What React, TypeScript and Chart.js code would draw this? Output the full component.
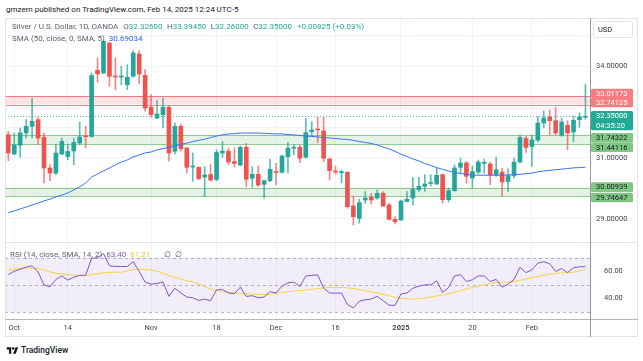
import React, { useEffect, useRef } from 'react';
import { Chart, registerables } from 'chart.js';

Chart.register(...registerables);

const FONT = 'Roboto, "Noto Sans", sans-serif';

// Daily OANDA XAGUSD candles, Sep 30 2024 .. Feb 14 2025 (holidays Dec 25 / Jan 1 absent)
const openP = [
  31.755, 31.124, 31.409, 31.811, 32.030, 32.245, 31.670, 30.667, 30.503, 31.124,
  31.043, 31.222, 31.484, 31.713, 31.696, 33.860, 33.771, 34.752, 33.673, 33.641,
  33.389, 33.664, 34.392, 33.696, 32.651, 32.301, 32.409, 32.651, 31.213, 32.030,
  31.320, 30.700, 30.690, 30.373, 30.454, 30.291, 31.157, 31.222, 30.879, 30.765,
  31.343, 30.330, 30.461, 30.134, 30.252, 30.536, 30.526, 31.036, 31.311, 31.343,
  31.016, 31.853, 31.931, 31.876, 30.961, 30.568, 30.513, 30.526, 29.425, 29.023,
  29.621, 29.709, 29.686, 29.840, 29.458, 28.990, 28.967, 29.572, 29.686, 29.958,
  30.069, 30.160, 30.144, 30.448, 29.631, 29.925, 30.690, 30.830, 30.340, 30.536,
  30.820, 30.798, 30.448, 30.536, 30.226, 30.422, 30.863, 31.631, 31.370, 31.582,
  32.137, 32.334, 32.213, 31.735, 32.062, 31.843, 32.245, 32.326,
];
const highP = [
  31.866, 31.811, 31.974, 32.245, 32.954, 32.324, 31.811, 30.775, 31.451, 31.647,
  31.451, 31.647, 32.170, 32.030, 33.771, 34.262, 34.833, 34.770, 34.262, 33.990,
  34.043, 34.500, 34.500, 33.879, 33.062, 32.866, 32.954, 32.716, 32.137, 32.105,
  31.330, 31.157, 30.700, 30.709, 30.775, 31.265, 31.533, 31.320, 31.320, 31.386,
  31.474, 30.709, 30.732, 30.275, 30.951, 30.820, 31.092, 31.494, 31.418, 31.418,
  32.291, 32.180, 32.324, 32.324, 30.984, 30.732, 30.600, 30.546, 29.752, 29.644,
  29.892, 29.840, 29.948, 29.892, 29.513, 29.075, 29.620, 29.905, 30.356, 30.363,
  30.448, 30.448, 30.667, 30.470, 30.013, 30.775, 30.993, 30.886, 30.732, 30.928,
  30.960, 30.863, 31.026, 30.667, 30.640, 30.993, 31.745, 31.700, 31.745, 32.343,
  32.529, 32.562, 32.651, 32.301, 32.213, 32.356, 32.464, 33.3945,
];
const lowP = [
  30.905, 31.101, 31.016, 31.647, 31.647, 31.428, 30.177, 30.252, 30.448, 31.101,
  30.938, 30.775, 31.428, 31.320, 31.680, 33.467, 33.755, 33.337, 33.226, 33.389,
  33.226, 33.631, 33.412, 32.520, 32.324, 32.278, 31.974, 30.886, 31.124, 31.213,
  30.503, 30.232, 30.275, 29.735, 30.232, 30.252, 31.010, 30.775, 30.700, 30.732,
  30.056, 30.036, 30.056, 29.677, 30.219, 30.111, 30.494, 30.513, 31.092, 30.840,
  30.984, 31.690, 31.500, 30.873, 30.275, 30.471, 30.187, 29.350, 28.804, 28.860,
  29.513, 29.490, 29.644, 29.402, 28.967, 28.837, 28.950, 29.556, 29.458, 29.882,
  29.905, 30.069, 30.120, 29.523, 29.556, 29.905, 30.503, 30.177, 30.013, 30.471,
  30.490, 30.121, 30.389, 29.735, 29.899, 30.340, 30.830, 31.173, 30.716, 31.530,
  31.974, 31.745, 31.745, 31.700, 31.265, 31.516, 31.997, 32.260,
];
const closeP = [
  31.157, 31.428, 31.811, 32.030, 32.193, 31.647, 30.667, 30.503, 31.157, 31.539,
  31.206, 31.500, 31.680, 31.690, 33.690, 33.739, 34.807, 33.664, 33.641, 33.673,
  33.631, 34.425, 33.739, 32.628, 32.409, 32.432, 32.651, 31.157, 32.030, 31.298,
  30.690, 30.732, 30.317, 30.438, 30.275, 31.173, 31.222, 30.863, 30.814, 31.343,
  30.298, 30.461, 30.111, 30.252, 30.624, 30.520, 31.059, 31.311, 31.343, 30.984,
  31.820, 31.909, 31.909, 30.984, 30.579, 30.536, 30.546, 29.402, 29.075, 29.533,
  29.686, 29.621, 29.840, 29.425, 28.990, 28.912, 29.588, 29.644, 29.964, 30.069,
  30.144, 30.177, 30.428, 29.631, 29.925, 30.667, 30.830, 30.396, 30.552, 30.863,
  30.830, 30.448, 30.611, 30.210, 30.422, 30.863, 31.664, 31.337, 31.582, 32.137,
  32.301, 32.213, 31.811, 32.170, 31.811, 32.226, 32.334, 32.350,
];
const sma50 = [
  29.21, 29.26, 29.33, 29.39, 29.46, 29.52, 29.59, 29.65, 29.72, 29.78,
  29.85, 29.95, 30.05, 30.18, 30.37, 30.47, 30.57, 30.67, 30.77, 30.86,
  30.93, 31.03, 31.09, 31.16, 31.19, 31.26, 31.30, 31.35, 31.39, 31.44,
  31.48, 31.53, 31.57, 31.61, 31.66, 31.71, 31.75, 31.78, 31.79, 31.81,
  31.81, 31.81, 31.81, 31.80, 31.79, 31.78, 31.78, 31.76, 31.75, 31.73,
  31.71, 31.70, 31.68, 31.66, 31.65, 31.63, 31.61, 31.60, 31.57, 31.53,
  31.50, 31.47, 31.42, 31.35, 31.29, 31.21, 31.12, 31.04, 30.96, 30.90,
  30.81, 30.75, 30.68, 30.62, 30.57, 30.52, 30.49, 30.46, 30.44, 30.43,
  30.43, 30.43, 30.43, 30.43, 30.44, 30.45, 30.46, 30.48, 30.50, 30.54,
  30.57, 30.59, 30.61, 30.63, 30.65, 30.67, 30.68, 30.69034,
];
const rsi14 = [
  57.5, 60, 61.5, 63, 64, 59.5, 50, 48.5, 54, 56.5,
  53.5, 55.5, 57, 57, 69.5, 70, 73, 64, 63.5, 63.5,
  63.5, 67, 60, 52, 50.5, 51, 52, 41.5, 47.5, 44,
  41, 40.5, 38.5, 39.5, 38.3, 46.3, 46.5, 44, 43.5, 48.3,
  41.5, 42, 40.5, 41, 45, 44, 49, 51.5, 52, 48.8,
  56.5, 57, 57.3, 47.6, 44, 43.9, 44, 35.5, 33, 38,
  39, 39.5, 41.5, 38.3, 35, 34.9, 43.2, 44, 47.5, 49,
  50, 50, 53, 44.4, 48, 56.5, 57.5, 52.4, 53.7, 56.6,
  56.5, 52.5, 54, 48.3, 50.5, 54, 62.9, 59, 61, 66,
  67, 65.5, 59.8, 62, 59, 62.5, 63.3, 63.4,
];
const rsiMa = [
  61, 61.5, 62, 62.2, 62.3, 62, 61, 59.5, 58.5, 58,
  57.5, 57, 56.7, 56.8, 57.5, 58.2, 59, 59.2, 59.3, 59.3,
  60.2, 61.3, 61.5, 61.3, 61, 60, 58.5, 56.8, 55.5, 54.3,
  53, 52.3, 50.5, 48.8, 46.8, 45.8, 45, 44.5, 44, 43.8,
  43.5, 43.2, 43, 42.8, 43.2, 43.8, 44.4, 45, 45.4, 45.8,
  46.2, 46.7, 47.2, 47.7, 48, 48, 48, 47.8, 47.2, 46.5,
  45.6, 44.8, 44, 43, 42, 40.8, 40, 39.7, 39.5, 39.7,
  40.2, 41, 41.8, 42.5, 43.5, 44.5, 45.8, 47, 48, 49,
  50, 51, 51.5, 51.8, 52, 52.4, 53.3, 54.3, 55.3, 56.2,
  57, 57.8, 58.4, 58.8, 59, 59.3, 60.2, 61.21,
];

const timeTickIndex = [1, 10, 24, 35, 45, 55, 66, 78, 88];
const timeTickText = ['Oct', '14', 'Nov', '18', 'Dec', '16', '2025', '20', 'Feb'];
const priceTicks = [29, 30, 31, 32, 33, 34, 35];
const rsiTicks = [40, 60];
const rsiLevels = [70, 50, 30];

const resistanceZone = [32.74125, 33.01173];
const supportZoneA = [31.44116, 31.74322];
const supportZoneB = [29.74647, 30.00939];
const lastPrice = 32.35;
const countdown = '04:35:20';

// layout (not data)
const X_MIN = -0.555;
const X_MAX = 97.77;
const Y_MIN = 28.281;
const Y_MAX = 35.536;
const RSI_MIN = 24.84;
const RSI_MAX = 80.8;
const AXIS_W = 48;

const UP = '#26a69a';
const DOWN = '#ef5350';
const GRID = '#f0f3fa';
const AXIS_TEXT = '#434651';
const RED_FILL = 'rgba(242, 54, 69, 0.15)';
const RED_LINE = 'rgba(242, 54, 69, 0.6)';
const GREEN_FILL = 'rgba(76, 175, 80, 0.15)';
const GREEN_LINE = 'rgba(76, 175, 80, 0.6)';

type AxisTag = { v: number; bg: string; fg: string; shift: number; sub?: string };

const noPad = (s: any) => {
  s.paddingTop = 0;
  s.paddingBottom = 0;
  s.paddingLeft = 0;
  s.paddingRight = 0;
};

const mainOverlay = {
  id: 'mainOverlay',
  beforeDatasetsDraw(chart: any) {
    const { ctx, chartArea: a, scales } = chart;
    const y = scales.y;
    ctx.save();
    const zones: [number[], string, string][] = [
      [resistanceZone, RED_FILL, RED_LINE],
      [supportZoneA, GREEN_FILL, GREEN_LINE],
      [supportZoneB, GREEN_FILL, GREEN_LINE],
    ];
    zones.forEach(([z, fill, line]) => {
      const yt = y.getPixelForValue(z[1]);
      const yb = y.getPixelForValue(z[0]);
      ctx.fillStyle = fill;
      ctx.fillRect(a.left, yt, a.right - a.left, yb - yt);
      ctx.strokeStyle = line;
      ctx.lineWidth = 1;
      [yt, yb].forEach((yy) => {
        const p = Math.round(yy) + 0.5;
        ctx.beginPath();
        ctx.moveTo(a.left, p);
        ctx.lineTo(a.right, p);
        ctx.stroke();
      });
    });
    const ly = Math.round(y.getPixelForValue(lastPrice)) + 0.5;
    ctx.setLineDash([1, 2]);
    ctx.strokeStyle = 'rgba(38,166,154,0.8)';
    ctx.beginPath();
    ctx.moveTo(a.left, ly);
    ctx.lineTo(a.right, ly);
    ctx.stroke();
    ctx.restore();
  },
  afterDraw(chart: any) {
    const { ctx, chartArea: a, scales } = chart;
    const y = scales.y;
    ctx.save();
    const tags: AxisTag[] = [
      { v: resistanceZone[1], bg: '#f77c80', fg: '#ffffff', shift: -2.8 },
      { v: resistanceZone[0], bg: '#f77c80', fg: '#ffffff', shift: -2.0 },
      { v: lastPrice, bg: '#22ab94', fg: '#ffffff', shift: -0.6, sub: countdown },
      { v: supportZoneA[1], bg: '#81c784', fg: '#131722', shift: 2.7 },
      { v: supportZoneA[0], bg: '#81c784', fg: '#131722', shift: 2.9 },
      { v: supportZoneB[1], bg: '#81c784', fg: '#131722', shift: -1.0 },
      { v: supportZoneB[0], bg: '#81c784', fg: '#131722', shift: 1.3 },
    ];
    const x0 = a.right + 1;
    const w = 42;
    const h = 9.6;
    ctx.font = `7.5px ${FONT}`;
    ctx.textBaseline = 'middle';
    ctx.textAlign = 'left';
    tags.forEach((t) => {
      const yc = y.getPixelForValue(t.v) + t.shift;
      const rows = t.sub ? 2 : 1;
      ctx.fillStyle = t.bg;
      ctx.beginPath();
      ctx.roundRect(x0, yc - h / 2, w, h * rows, 1.5);
      ctx.fill();
      ctx.fillStyle = t.fg;
      ctx.fillText(t.v.toFixed(5), x0 + 5, yc + 0.5);
      if (t.sub) ctx.fillText(t.sub, x0 + 5, yc + h + 0.5);
    });
    // currency box
    ctx.fillStyle = '#ffffff';
    ctx.strokeStyle = '#e0e3eb';
    ctx.lineWidth = 1;
    ctx.beginPath();
    ctx.roundRect(a.right + 3.5, 2.5, 39, 16, 2);
    ctx.fill();
    ctx.stroke();
    ctx.fillStyle = '#131722';
    ctx.fillText('USD', a.right + 8, 10.8);
    ctx.restore();
  },
};

const rsiOverlay = {
  id: 'rsiOverlay',
  beforeDatasetsDraw(chart: any) {
    const { ctx, chartArea: a, scales } = chart;
    const y = scales.y;
    ctx.save();
    const top = y.getPixelForValue(rsiLevels[0]);
    const bot = y.getPixelForValue(rsiLevels[2]);
    ctx.fillStyle = 'rgba(126, 87, 194, 0.1)';
    ctx.fillRect(a.left, top, a.right - a.left, bot - top);
    ctx.setLineDash([3, 3]);
    ctx.strokeStyle = 'rgba(120, 123, 134, 0.55)';
    ctx.lineWidth = 1;
    rsiLevels.forEach((lv) => {
      const p = Math.round(y.getPixelForValue(lv)) + 0.5;
      ctx.beginPath();
      ctx.moveTo(a.left, p);
      ctx.lineTo(a.right, p);
      ctx.stroke();
    });
    ctx.restore();
  },
};

const abs = (l: number, t: number, w: number, h: number, extra: any = {}) => ({
  position: 'absolute' as const,
  left: l,
  top: t,
  width: w,
  height: h,
  ...extra,
});

export default function App() {
  const mainRef = useRef<HTMLCanvasElement>(null);
  const rsiRef = useRef<HTMLCanvasElement>(null);

  useEffect(() => {
    const idx = closeP.map((_, i) => i);
    const up = idx.map((i) => closeP[i] >= openP[i]);
    const tickFont = { size: 7.5, family: FONT };

    const main = new Chart(mainRef.current as HTMLCanvasElement, {
      type: 'bar',
      data: {
        datasets: [
          {
            type: 'line',
            data: idx.map((i) => ({ x: i, y: sma50[i] })),
            borderColor: '#3d6ff5',
            borderWidth: 1,
            pointRadius: 0,
            order: 0,
          } as any,
          {
            type: 'bar',
            data: idx.map((i) => ({ x: i, y: [Math.min(openP[i], closeP[i]), Math.max(openP[i], closeP[i])] })),
            backgroundColor: up.map((u) => (u ? UP : DOWN)),
            barThickness: 4,
            grouped: false,
            minBarLength: 1,
            order: 1,
          } as any,
          {
            type: 'bar',
            data: idx.map((i) => ({ x: i, y: [lowP[i], highP[i]] })),
            backgroundColor: up.map((u) => (u ? 'rgba(38,166,154,0.75)' : 'rgba(239,83,80,0.7)')),
            barThickness: 1,
            grouped: false,
            order: 2,
          } as any,
        ],
      },
      options: {
        responsive: false,
        animation: false,
        events: [],
        layout: { padding: 0, autoPadding: false } as any,
        plugins: { legend: { display: false }, tooltip: { enabled: false } },
        scales: {
          x: {
            type: 'linear',
            min: X_MIN,
            max: X_MAX,
            offset: false,
            afterBuildTicks: (s: any) => {
              s.ticks = timeTickIndex.map((v) => ({ value: v }));
            },
            afterFit: (s: any) => {
              s.height = 0;
              noPad(s);
            },
            ticks: { display: false },
            grid: { color: GRID, drawTicks: false, offset: false },
            border: { display: false },
          },
          y: {
            type: 'linear',
            position: 'right',
            min: Y_MIN,
            max: Y_MAX,
            afterBuildTicks: (s: any) => {
              s.ticks = priceTicks.map((v) => ({ value: v }));
            },
            afterFit: (s: any) => {
              s.width = AXIS_W;
              noPad(s);
            },
            ticks: {
              callback: (v: any) => Number(v).toFixed(5),
              color: AXIS_TEXT,
              font: tickFont,
              padding: 6,
            },
            grid: { color: GRID, drawTicks: false },
            border: { display: false },
          },
        },
      } as any,
      plugins: [mainOverlay],
    });

    const rsi = new Chart(rsiRef.current as HTMLCanvasElement, {
      type: 'line',
      data: {
        datasets: [
          {
            data: idx.map((i) => ({ x: i, y: rsiMa[i] })),
            borderColor: '#f5d33f',
            borderWidth: 1,
            pointRadius: 0,
            order: 1,
          },
          {
            data: idx.map((i) => ({ x: i, y: rsi14[i] })),
            borderColor: '#7e57c2',
            borderWidth: 1,
            pointRadius: 0,
            order: 0,
          },
        ],
      },
      options: {
        responsive: false,
        animation: false,
        events: [],
        layout: { padding: 0, autoPadding: false } as any,
        plugins: { legend: { display: false }, tooltip: { enabled: false } },
        scales: {
          x: {
            type: 'linear',
            min: X_MIN,
            max: X_MAX,
            offset: false,
            afterBuildTicks: (s: any) => {
              s.ticks = timeTickIndex.map((v) => ({ value: v }));
            },
            afterFit: (s: any) => {
              s.height = 18;
              noPad(s);
            },
            ticks: {
              callback: (v: any) => timeTickText[timeTickIndex.indexOf(Number(v))] ?? '',
              autoSkip: false,
              maxRotation: 0,
              color: AXIS_TEXT,
              font: (c: any) => {
                const t = timeTickText[timeTickIndex.indexOf(c.tick ? c.tick.value : -1)] || '';
                return { size: 7.5, family: FONT, weight: /^\d{4}$/.test(t) ? 'bold' : 'normal' };
              },
              padding: 5,
            },
            grid: { color: GRID, drawTicks: false, offset: false },
            border: { display: false },
          },
          y: {
            type: 'linear',
            position: 'right',
            min: RSI_MIN,
            max: RSI_MAX,
            afterBuildTicks: (s: any) => {
              s.ticks = rsiTicks.map((v) => ({ value: v }));
            },
            afterFit: (s: any) => {
              s.width = AXIS_W;
              noPad(s);
            },
            ticks: {
              callback: (v: any) => Number(v).toFixed(2),
              color: AXIS_TEXT,
              font: tickFont,
              padding: 6,
            },
            grid: { display: false },
            border: { display: false },
          },
        },
      } as any,
      plugins: [rsiOverlay],
    });

    return () => {
      main.destroy();
      rsi.destroy();
    };
  }, []);

  const txt = { fontFamily: FONT, fontSize: '8px', lineHeight: '10px', whiteSpace: 'nowrap' as const };
  const gray = '#5d606b';
  const teal = '#22ab94';

  return (
    <div style={{ position: 'fixed', left: 0, top: 0, width: 643, height: 361, background: '#ffffff', overflow: 'hidden' }}>
      <canvas ref={mainRef} width={633} height={222} style={abs(5, 19, 633, 222)} />
      <canvas ref={rsiRef} width={633} height={94} style={abs(5, 243, 633, 94)} />

      {/* frame and separators */}
      <div style={abs(5, 18, 633, 1, { background: '#e0e3eb' })} />
      <div style={abs(5, 18, 1, 319, { background: '#e0e3eb' })} />
      <div style={abs(637, 18, 1, 319, { background: '#e0e3eb' })} />
      <div style={abs(5, 336, 633, 1, { background: '#e0e3eb' })} />
      <div style={abs(5, 242, 633, 1, { background: '#e0e3eb' })} />
      <div style={abs(5, 319, 633, 1, { background: '#b2b5be' })} />
      <div style={abs(590, 18, 1, 319, { background: '#9598a1' })} />

      {/* header */}
      <div style={{ ...abs(6, 5, 400, 10), ...txt, color: '#131722' }}>
        gmzern published on TradingView.com, Feb 14, 2025 12:24 UTC-5
      </div>

      {/* legend */}
      <div style={{ ...abs(12, 22, 420, 10), ...txt, color: gray }}>
        <span>Silver / U.S. Dollar, 1D, OANDA</span>
        <span style={{ marginLeft: 5 }}>O</span>
        <span style={{ color: teal }}>32.32600</span>
        <span style={{ marginLeft: 4.5 }}>H</span>
        <span style={{ color: teal }}>33.39450</span>
        <span style={{ marginLeft: 4.5 }}>L</span>
        <span style={{ color: teal }}>32.26000</span>
        <span style={{ marginLeft: 4.5 }}>C</span>
        <span style={{ color: teal }}>32.35000</span>
        <span style={{ marginLeft: 5, color: teal }}>+0.00825 (+0.03%)</span>
      </div>
      <div style={{ ...abs(12, 34, 200, 10), ...txt, color: gray }}>
        <span>SMA (50, close, 0, SMA, 5)</span>
        <span style={{ marginLeft: 4, color: '#2962ff' }}>30.69034</span>
      </div>
      <div style={{ ...abs(10, 250, 250, 10), ...txt, color: gray }}>
        <span>RSI (14, close, SMA, 14, 2)</span>
        <span style={{ marginLeft: 4, color: '#7e57c2' }}>63.40</span>
        <span style={{ marginLeft: 4, color: '#e6c532' }}>61.21</span>
        <span style={{ marginLeft: 14 }}>∅</span>
        <span style={{ marginLeft: 4 }}>∅</span>
      </div>

      {/* TradingView logo */}
      <div style={{ ...abs(6, 344, 120, 12), display: 'flex', alignItems: 'center' }}>
        <svg width="13" height="9" viewBox="0 0 36 28">
          <path d="M14 24H7V11H0V4h14v20zM28 24h-8l7.5-20h8L28 24z" fill="#131722" />
          <circle cx="20" cy="8" r="4" fill="#131722" />
        </svg>
        <span style={{ fontFamily: FONT, fontSize: '8.5px', fontWeight: 500, color: '#131722', marginLeft: 2 }}>TradingView</span>
      </div>
    </div>
  );
}
